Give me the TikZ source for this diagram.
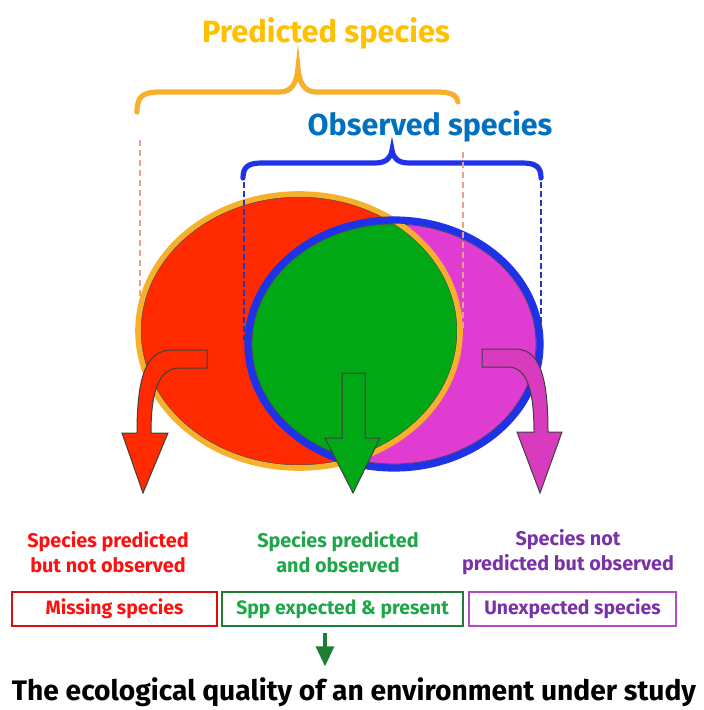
\documentclass[tikz,border=0pt]{standalone}
\usepackage{fontspec}
\setmainfont{Fira Sans}
\usetikzlibrary{arrows.meta,shadows}
\definecolor{gold}{HTML}{FFC000}
\definecolor{brc}{HTML}{F7B02C}
\definecolor{obs}{HTML}{0070C0}
\definecolor{ring}{HTML}{1E32E8}
\definecolor{dblue}{HTML}{2A36B8}
\definecolor{salm}{HTML}{EBA08C}
\definecolor{rd}{HTML}{FF2A00}
\definecolor{gr}{HTML}{00A816}
\definecolor{mg}{HTML}{E03CD2}
\definecolor{mga}{HTML}{D93BBE}
\definecolor{tr}{HTML}{FF1010}
\definecolor{tg}{HTML}{1FA648}
\definecolor{tp}{HTML}{7A32A6}
\definecolor{bg}{HTML}{1E7E34}
\definecolor{bp}{HTML}{B24CC2}
\tikzset{
  lbl/.style={align=center,font=\bfseries\fontsize{9.9}{12.5}\selectfont},
  tag/.style={draw,fill=white,minimum height=17pt,inner sep=0pt,line width=0.6pt,
    font=\bfseries\fontsize{9.7}{11}\selectfont,
    drop shadow={shadow xshift=0.7pt,shadow yshift=-0.7pt,opacity=0.25}},
  blk/.style={draw=black!75,line width=0.5pt},
}

\begin{document}
\begin{tikzpicture}[x=0.5pt,y=-0.5pt]
  \useasboundingbox (0,0) rectangle (703,710);
  \def\Pred{(299,331) ellipse [x radius=161,y radius=137]}
  \def\Obs{(394,344) ellipse [x radius=146,y radius=124]}
  % the two sets and their overlap
  \fill[rd] \Pred;
  \fill[mg] \Obs;
  \begin{scope}\clip \Pred;\fill[gr] \Obs;\end{scope}
  \draw[black!70,line width=0.4pt] (299,331) ellipse [x radius=158,y radius=134];
  \draw[black!70,line width=0.4pt] (394,344) ellipse [x radius=142,y radius=120];
  \draw[brc,line width=2.8pt] \Pred;
  \draw[ring,line width=3.6pt] \Obs;
  % braces
  \coordinate (pl) at (137,112);\coordinate (pr) at (458,102);
  \coordinate (ol) at (243,178);\coordinate (or) at (541,178);
  \draw[brc,line width=2.6pt,line cap=round] (pl) .. controls (137,96) and (143,92) .. (160,92)
    -- (280,92) .. controls (292,92) and (297,82) .. (298,68)
    .. controls (299,82) and (304,92) .. (316,92) -- (436,92) .. controls (451,92) and (457,95) .. (pr);
  \draw[ring,line width=2.6pt,line cap=round] (ol) .. controls (243,167) and (248,163) .. (262,163)
    -- (375,163) .. controls (386,163) and (391,158) .. (392,150)
    .. controls (393,158) and (398,163) .. (409,163) -- (522,163) .. controls (536,163) and (541,167) .. (or);
  \draw[salm,line width=0.6pt,dash pattern=on 3pt off 2pt] (140,140)--(140,302) (463,152)--(463,328);
  \draw[dblue,line width=0.8pt,dash pattern=on 3pt off 1.5pt] (ol)++(1,4)--(244,340) (or)++(0,4)--(541,326);
  % arrows out of each part
  \filldraw[fill=rd,blk] (207,350) -- (172,350) .. controls (148,350) and (137,372) .. (137,433)
    -- (122,433) -- (143,493) -- (168,433) -- (151,433) .. controls (151,388) and (160,368) .. (180,368)
    -- (207,368) -- cycle;
  \filldraw[fill=gr,blk] (342,373) -- (365,373) -- (365,438) -- (380,438) -- (353,493)
    -- (325,438) -- (342,438) -- cycle;
  \filldraw[fill=mga,blk] (482,349) -- (515,349) .. controls (538,349) and (548,372) .. (548,432)
    -- (562,432) -- (540,493) -- (517,432) -- (534,432) .. controls (534,388) and (526,367) .. (508,367)
    -- (482,367) -- cycle;
  % titles
  \node[gold,font=\bfseries\fontsize{15.4}{17}\selectfont] (pred) at (326,33) {Predicted species};
  \node[obs,font=\bfseries\fontsize{15.2}{17}\selectfont] (obs) at (430,127) {Observed species};
  % what each part means
  \node[lbl,tr] (l1) at (108,552) {Species predicted\\but not observed};
  \node[lbl,tg] (l2) at (338,552) {Species predicted\\and observed};
  \node[lbl,tp] (l3) at (568,552) {Species not\\predicted but observed};
  \node[tag,draw=tr!85!black,text=tr,minimum width=102.5pt] (missing) at (114.5,609) {Missing species};
  \node[tag,draw=bg,line width=1pt,text=tg,minimum width=120.5pt] (present) at (342.5,609) {Spp expected \& present};
  \node[tag,draw=bp,text=tp,minimum width=103.5pt] (unexp) at (572.5,609) {Unexpected species};
  \node[font=\bfseries\fontsize{14.1}{16}\selectfont] (quality) at (354,692) {The ecological quality of an environment under study};
  \coordinate (dn) at (325,0);
  \draw[-{Triangle[width=9pt,length=10pt]},line width=1.6pt,bg] ([yshift=-3pt]present.south -| dn) -- ([yshift=2pt]quality.north -| dn);
\end{tikzpicture}
\end{document}
